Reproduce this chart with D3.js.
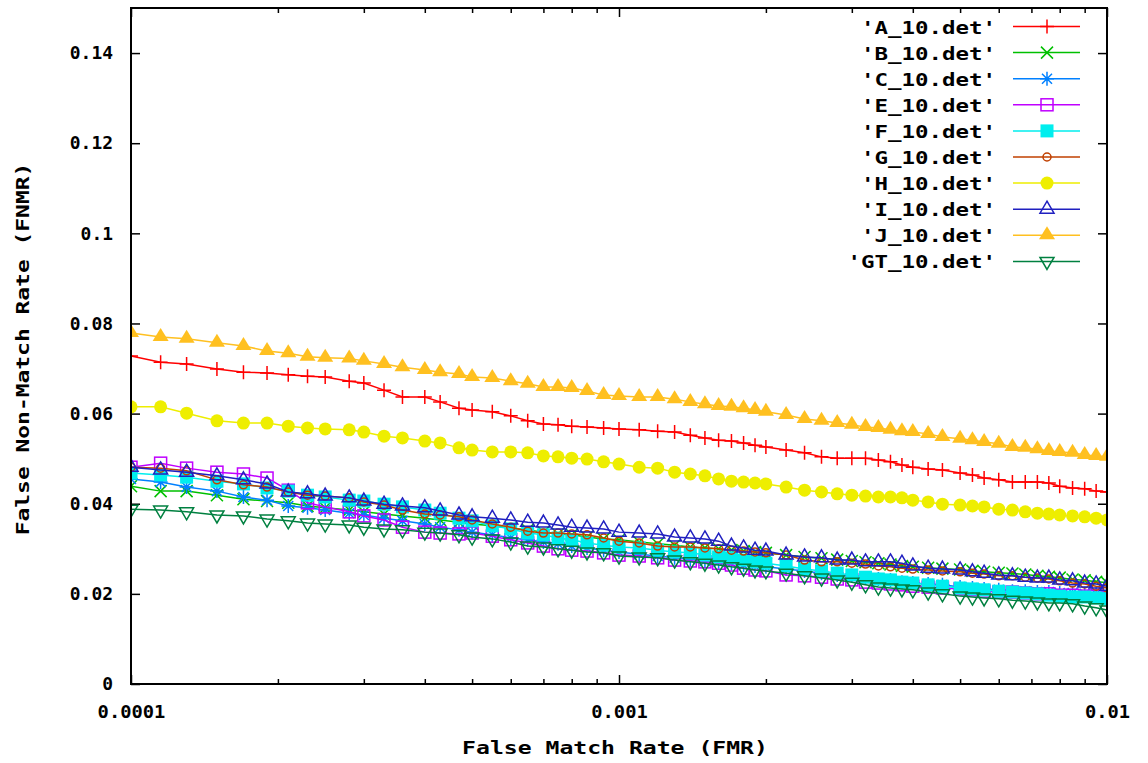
<!DOCTYPE html>
<html><head><meta charset="utf-8">
<script src="https://cdn.jsdelivr.net/npm/d3@7"></script>
<style>body{margin:0;background:#fff}svg{display:block}</style>
</head><body><svg id="c" width="1148" height="763"></svg>
<script>
// ---------- data ----------
const FMR = [0.0001,0.000115,0.00013,0.00015,0.00017,0.00019,0.00021,0.00023,0.00025,0.00028,0.0003,0.00033,0.00036,0.0004,0.00043,0.00047,0.0005,0.00055,0.0006,0.00065,0.0007,0.00075,0.0008,0.00086,0.00093,0.001,0.0011,0.0012,0.0013,0.0014,0.0015,0.0016,0.0017,0.0018,0.0019,0.002,0.0022,0.0024,0.0026,0.0028,0.003,0.0032,0.0034,0.0036,0.0038,0.004,0.0043,0.0046,0.005,0.0053,0.0056,0.006,0.0064,0.0068,0.0072,0.0076,0.008,0.0085,0.009,0.0095,0.01];

const A_10 = [0.0728,0.0714,0.0710,0.0699,0.0692,0.0690,0.0686,0.0683,0.0681,0.0672,0.0668,0.0652,0.0637,0.0637,0.0626,0.0612,0.0608,0.0604,0.0595,0.0584,0.0577,0.0575,0.0572,0.0570,0.0568,0.0566,0.0564,0.0561,0.0559,0.0552,0.0546,0.0541,0.0539,0.0535,0.0530,0.0526,0.0519,0.0513,0.0504,0.0501,0.0501,0.0501,0.0497,0.0493,0.0486,0.0481,0.0477,0.0475,0.0468,0.0464,0.0457,0.0453,0.0448,0.0448,0.0448,0.0446,0.0439,0.0435,0.0433,0.0428,0.0426];
const B_10 = [0.0439,0.0428,0.0428,0.0419,0.0410,0.0406,0.0402,0.0395,0.0391,0.0386,0.0382,0.0377,0.0373,0.0368,0.0364,0.0359,0.0355,0.0351,0.0346,0.0342,0.0337,0.0333,0.0331,0.0326,0.0322,0.0320,0.0315,0.0311,0.0308,0.0304,0.0302,0.0300,0.0297,0.0295,0.0293,0.0291,0.0286,0.0282,0.0279,0.0276,0.0273,0.0270,0.0268,0.0265,0.0262,0.0260,0.0258,0.0256,0.0254,0.0251,0.0249,0.0247,0.0245,0.0243,0.0240,0.0238,0.0236,0.0232,0.0230,0.0227,0.0225];
const C_10 = [0.0455,0.0448,0.0437,0.0428,0.0415,0.0408,0.0395,0.0391,0.0386,0.0379,0.0375,0.0368,0.0362,0.0355,0.0348,0.0342,0.0337,0.0331,0.0324,0.0320,0.0315,0.0311,0.0306,0.0302,0.0297,0.0293,0.0288,0.0284,0.0280,0.0277,0.0273,0.0271,0.0268,0.0264,0.0262,0.0260,0.0255,0.0251,0.0246,0.0242,0.0240,0.0235,0.0233,0.0231,0.0226,0.0224,0.0222,0.0220,0.0215,0.0213,0.0211,0.0209,0.0206,0.0206,0.0204,0.0204,0.0202,0.0202,0.0200,0.0200,0.0197];
const E_10 = [0.0481,0.0490,0.0479,0.0470,0.0466,0.0457,0.0430,0.0402,0.0393,0.0382,0.0373,0.0364,0.0348,0.0337,0.0335,0.0333,0.0335,0.0328,0.0320,0.0313,0.0306,0.0300,0.0297,0.0295,0.0291,0.0286,0.0284,0.0280,0.0275,0.0273,0.0271,0.0268,0.0264,0.0257,0.0253,0.0251,0.0242,0.0240,0.0237,0.0233,0.0231,0.0226,0.0224,0.0222,0.0220,0.0217,0.0215,0.0213,0.0211,0.0209,0.0206,0.0204,0.0204,0.0202,0.0200,0.0200,0.0197,0.0197,0.0195,0.0195,0.0193];
const F_10 = [0.0468,0.0464,0.0459,0.0450,0.0444,0.0435,0.0428,0.0419,0.0415,0.0408,0.0406,0.0399,0.0393,0.0386,0.0379,0.0368,0.0362,0.0351,0.0344,0.0335,0.0331,0.0324,0.0320,0.0313,0.0308,0.0304,0.0302,0.0297,0.0293,0.0291,0.0286,0.0282,0.0280,0.0275,0.0271,0.0268,0.0262,0.0255,0.0251,0.0246,0.0242,0.0237,0.0233,0.0231,0.0226,0.0224,0.0220,0.0217,0.0213,0.0211,0.0209,0.0206,0.0204,0.0202,0.0200,0.0197,0.0195,0.0193,0.0193,0.0191,0.0189];
const G_10 = [0.0481,0.0479,0.0473,0.0453,0.0442,0.0437,0.0426,0.0419,0.0417,0.0413,0.0404,0.0397,0.0386,0.0377,0.0375,0.0371,0.0364,0.0355,0.0348,0.0339,0.0335,0.0335,0.0333,0.0331,0.0324,0.0317,0.0313,0.0306,0.0304,0.0304,0.0302,0.0300,0.0297,0.0295,0.0293,0.0291,0.0286,0.0275,0.0271,0.0271,0.0268,0.0266,0.0262,0.0260,0.0257,0.0255,0.0253,0.0251,0.0249,0.0246,0.0244,0.0240,0.0240,0.0237,0.0235,0.0233,0.0229,0.0224,0.0222,0.0217,0.0213];
const H_10 = [0.0615,0.0615,0.0601,0.0584,0.0579,0.0579,0.0572,0.0568,0.0566,0.0564,0.0559,0.0550,0.0546,0.0539,0.0535,0.0524,0.0519,0.0515,0.0515,0.0513,0.0506,0.0504,0.0501,0.0499,0.0493,0.0488,0.0481,0.0479,0.0470,0.0466,0.0462,0.0455,0.0450,0.0448,0.0446,0.0444,0.0437,0.0430,0.0426,0.0422,0.0419,0.0417,0.0415,0.0415,0.0413,0.0408,0.0404,0.0399,0.0397,0.0395,0.0393,0.0388,0.0386,0.0382,0.0379,0.0377,0.0375,0.0373,0.0371,0.0368,0.0364];
const I_10 = [0.0481,0.0475,0.0470,0.0462,0.0453,0.0444,0.0426,0.0422,0.0417,0.0413,0.0406,0.0399,0.0395,0.0391,0.0384,0.0375,0.0371,0.0368,0.0364,0.0359,0.0357,0.0353,0.0348,0.0346,0.0344,0.0337,0.0335,0.0333,0.0326,0.0324,0.0322,0.0317,0.0306,0.0302,0.0297,0.0295,0.0286,0.0282,0.0280,0.0275,0.0275,0.0271,0.0271,0.0271,0.0268,0.0262,0.0257,0.0255,0.0253,0.0249,0.0246,0.0242,0.0240,0.0237,0.0235,0.0235,0.0231,0.0229,0.0224,0.0222,0.0217];
const J_10 = [0.0779,0.0770,0.0766,0.0757,0.0750,0.0739,0.0734,0.0726,0.0724,0.0722,0.0717,0.0710,0.0703,0.0697,0.0692,0.0688,0.0681,0.0679,0.0672,0.0666,0.0659,0.0659,0.0657,0.0650,0.0641,0.0639,0.0637,0.0637,0.0632,0.0626,0.0621,0.0617,0.0615,0.0612,0.0608,0.0604,0.0597,0.0588,0.0584,0.0579,0.0575,0.0570,0.0568,0.0564,0.0561,0.0559,0.0555,0.0548,0.0544,0.0541,0.0537,0.0533,0.0526,0.0524,0.0521,0.0517,0.0515,0.0513,0.0508,0.0506,0.0504];
const GT_10 = [0.0388,0.0386,0.0382,0.0375,0.0373,0.0366,0.0362,0.0357,0.0355,0.0353,0.0348,0.0344,0.0342,0.0337,0.0335,0.0331,0.0326,0.0322,0.0315,0.0306,0.0304,0.0300,0.0297,0.0293,0.0291,0.0284,0.0282,0.0280,0.0275,0.0271,0.0268,0.0264,0.0260,0.0257,0.0253,0.0251,0.0246,0.0240,0.0235,0.0231,0.0226,0.0220,0.0215,0.0213,0.0211,0.0209,0.0204,0.0200,0.0195,0.0193,0.0191,0.0189,0.0186,0.0184,0.0182,0.0180,0.0180,0.0178,0.0173,0.0169,0.0164];

const seriesLabels = ["'A_10.det'","'B_10.det'","'C_10.det'","'E_10.det'","'F_10.det'","'G_10.det'","'H_10.det'","'I_10.det'","'J_10.det'","'GT_10.det'"];
const yTickValues = [0,0.02,0.04,0.06,0.08,0.1,0.12,0.14];
const yTickLabels = ["0","0.02","0.04","0.06","0.08","0.1","0.12","0.14"];
const xTickValues = [0.0001,0.001,0.01];
const xTickLabels = ["0.0001","0.001","0.01"];
const xMinorTicks = [0.0002,0.0003,0.0004,0.0005,0.0006,0.0007,0.0008,0.0009,0.002,0.003,0.004,0.005,0.006,0.007,0.008,0.009];
const xTitle = "False Match Rate (FMR)";
const yTitle = "False Non-Match Rate (FNMR)";

// ---------- styles ----------
const colors = ["#ff0000","#00c000","#0080ff","#c000ff","#00eeee","#c04000","#eeee00","#2020c0","#ffc020","#008040"];
const markers = ["plus","cross","star","box","fbox","circle","fcircle","tri","ftri","dtri"];
const seriesData = [A_10,B_10,C_10,E_10,F_10,G_10,H_10,I_10,J_10,GT_10];

const L = 131, R = 1107, T = 8, B = 684;
const x = d3.scaleLog().domain([0.0001, 0.01]).range([L, R]);
const y = d3.scaleLinear().domain([0, 0.15]).range([B, T]);

const svg = d3.select("#c");
const FONT = "'DejaVu Sans Mono', 'Liberation Mono', monospace";

function styleText(sel, cw) {
  sel.attr("font-family", FONT).attr("font-weight", "bold").attr("font-size", 18)
     .attr("fill", "#000")
     .attr("textLength", function () { return this.textContent.length * cw; })
     .attr("lengthAdjust", "spacingAndGlyphs");
}

// axes
const gl = svg.append("g").attr("transform", `translate(${L},0)`)
  .call(d3.axisLeft(y).tickValues(yTickValues).tickFormat((d, i) => yTickLabels[i]).tickSizeInner(-9).tickSizeOuter(0).tickPadding(18));
const gr = svg.append("g").attr("transform", `translate(${R},0)`)
  .call(d3.axisRight(y).tickValues(yTickValues).tickFormat("").tickSizeInner(-9).tickSizeOuter(0));
const gb = svg.append("g").attr("transform", `translate(0,${B})`)
  .call(d3.axisBottom(x).tickValues(xTickValues).tickFormat((d, i) => xTickLabels[i]).tickSizeInner(-9).tickSizeOuter(0).tickPadding(21));
const gbm = svg.append("g").attr("transform", `translate(0,${B})`)
  .call(d3.axisBottom(x).tickValues(xMinorTicks).tickFormat("").tickSizeInner(-5).tickSizeOuter(0));
const gt = svg.append("g").attr("transform", `translate(0,${T})`)
  .call(d3.axisTop(x).tickValues(xTickValues).tickFormat("").tickSizeInner(-9).tickSizeOuter(0));
const gtm = svg.append("g").attr("transform", `translate(0,${T})`)
  .call(d3.axisTop(x).tickValues(xMinorTicks).tickFormat("").tickSizeInner(-5).tickSizeOuter(0));
[gl, gr, gb, gbm, gt, gtm].forEach(g => {
  g.select(".domain").remove();
  g.selectAll(".tick line").attr("stroke", "#000").attr("stroke-width", 1.5);
});
styleText(gl.selectAll(".tick text"), 10.8);
styleText(gb.selectAll(".tick text"), 11.3);

// clip
svg.append("defs").append("clipPath").attr("id", "clip")
  .append("rect").attr("x", L).attr("y", T).attr("width", R - L).attr("height", B - T);

function drawMarker(g, type, color) {
  const sw = 1.5;
  switch (type) {
    case "plus": g.append("path").attr("d", "M-7,0H7M0,-7V7").attr("stroke", color).attr("stroke-width", sw).attr("fill", "none"); break;
    case "cross": g.append("path").attr("d", "M-6,-6L6,6M-6,6L6,-6").attr("stroke", color).attr("stroke-width", sw).attr("fill", "none"); break;
    case "star": g.append("path").attr("d", "M-7,0H7M0,-7V7M-5,-5L5,5M-5,5L5,-5").attr("stroke", color).attr("stroke-width", sw).attr("fill", "none"); break;
    case "box": g.append("rect").attr("x", -6).attr("y", -6).attr("width", 12).attr("height", 12).attr("stroke", color).attr("stroke-width", sw).attr("fill", "none"); break;
    case "fbox": g.append("rect").attr("x", -6.5).attr("y", -6.5).attr("width", 13).attr("height", 13).attr("fill", color); break;
    case "circle": g.append("circle").attr("r", 4).attr("stroke", color).attr("stroke-width", sw).attr("fill", "none"); break;
    case "fcircle": g.append("circle").attr("r", 6.5).attr("fill", color); break;
    case "tri": g.append("path").attr("d", "M0,-8L7,4L-7,4Z").attr("stroke", color).attr("stroke-width", sw).attr("fill", "none"); break;
    case "ftri": g.append("path").attr("d", "M0,-9L8,4L-8,4Z").attr("fill", color); break;
    case "dtri": g.append("path").attr("d", "M0,8L7,-4L-7,-4Z").attr("stroke", color).attr("stroke-width", sw).attr("fill", "none"); break;
  }
}

const line = d3.line().x(d => x(d[0])).y(d => y(d[1]));
const plot = svg.append("g").attr("clip-path", "url(#clip)");
seriesData.forEach((vals, si) => {
  const pts = FMR.map((f, i) => [f, vals[i]]);
  const g = plot.append("g");
  g.append("path").datum(pts).attr("d", line).attr("fill", "none")
    .attr("stroke", colors[si]).attr("stroke-width", 1.5);
  pts.forEach(p => {
    const m = g.append("g").attr("transform", `translate(${x(p[0])},${y(p[1])})`);
    drawMarker(m, markers[si], colors[si]);
  });
});

// border
svg.append("rect").attr("x", L).attr("y", T).attr("width", R - L).attr("height", B - T)
  .attr("fill", "none").attr("stroke", "#000").attr("stroke-width", 2);

// legend
const legend = svg.append("g");
seriesLabels.forEach((lab, i) => {
  const ry = 26.5 + i * 26.1;
  const t = legend.append("text").attr("x", 996).attr("y", ry + 7).attr("text-anchor", "end").text(lab);
  styleText(t, 13.5);
  legend.append("line").attr("x1", 1013).attr("x2", 1080).attr("y1", ry).attr("y2", ry)
    .attr("stroke", colors[i]).attr("stroke-width", 1.5);
  const m = legend.append("g").attr("transform", `translate(1047,${ry})`);
  drawMarker(m, markers[i], colors[i]);
});

// titles
const xt = svg.append("text").attr("x", 615).attr("y", 754).attr("text-anchor", "middle").text(xTitle);
styleText(xt, 13.9);
const yt = svg.append("text").attr("transform", "translate(29,349) rotate(-90)").attr("text-anchor", "middle").text(yTitle);
styleText(yt, 13.8);
</script>
</body></html>
